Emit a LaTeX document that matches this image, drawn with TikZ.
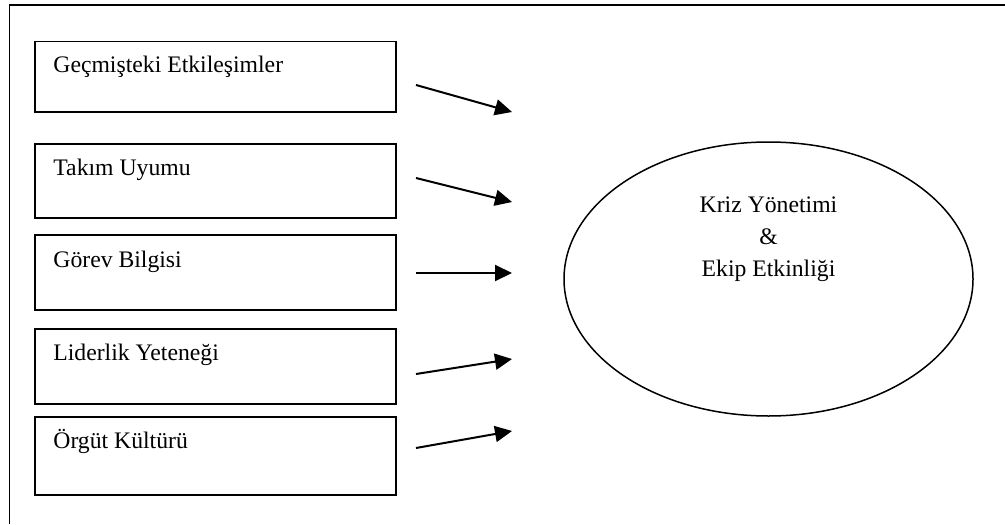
\documentclass[tikz,border=0pt]{standalone}
\usepackage{fontspec}
\setmainfont{Liberation Serif}
\usetikzlibrary{shapes.geometric,arrows.meta}
\begin{document}
\begin{tikzpicture}[x=0.5pt,y=-0.5pt,
  frameline/.style={line width=0.85pt},
  factor/.style={draw,line width=0.75pt,rectangle,anchor=north west,minimum width=180.5pt,inner sep=0pt},
  factortext/.style={anchor=base west,inner sep=0pt,font=\fontsize{11.85}{14}\selectfont},
  conn/.style={line width=1pt,-{Triangle[length=8.5pt,width=8pt]}},
  outcome/.style={draw,line width=0.75pt,ellipse,minimum width=204.5pt,minimum height=137pt,inner sep=0pt},
  outcometext/.style={align=center,anchor=base,inner sep=0pt,font=\fontsize{11.85}{16}\selectfont}]
\useasboundingbox (0,0) rectangle (1005,524);
\draw[frameline] (9.5,524) -- (9.5,5) -- (1005,5);
% factor boxes
\node[factor,minimum height=35pt] (b1) at (34,41) {};
\node[factor,minimum height=37pt] (b2) at (34,143) {};
\node[factor,minimum height=37.5pt] (b3) at (34,234) {};
\node[factor,minimum height=37.5pt] (b4) at (34,328) {};
\node[factor,minimum height=39pt] (b5) at (34,416) {};
\node[factortext] (t1) at (53,73) {Geçmişteki Etkileşimler};
\node[factortext] (t2) at (53,175) {Takım Uyumu};
\node[factortext] (t3) at (53,267) {Görev Bilgisi};
\node[factortext] (t4) at (53,360) {Liderlik Yeteneği};
\node[factortext] (t5) at (53,448) {Örgüt Kültürü};
% outcome
\node[outcome] (o) at (768.5,279) {};
\node[outcometext] (ot) at (768.5,276) {Kriz Yönetimi\\\&\\Ekip Etkinliği};
% arrows
\coordinate (s1) at (416,85);  \coordinate (e1) at (512,112);
\coordinate (s2) at (416,178); \coordinate (e2) at (512,202);
\coordinate (s3) at (416,273); \coordinate (e3) at (512,273);
\coordinate (s4) at (416,374); \coordinate (e4) at (512,359);
\coordinate (s5) at (416,448); \coordinate (e5) at (512,431);
\draw[conn] (s1) -- (e1);
\draw[conn] (s2) -- (e2);
\draw[conn] (s3) -- (e3);
\draw[conn] (s4) -- (e4);
\draw[conn] (s5) -- (e5);
\end{tikzpicture}
\end{document}
